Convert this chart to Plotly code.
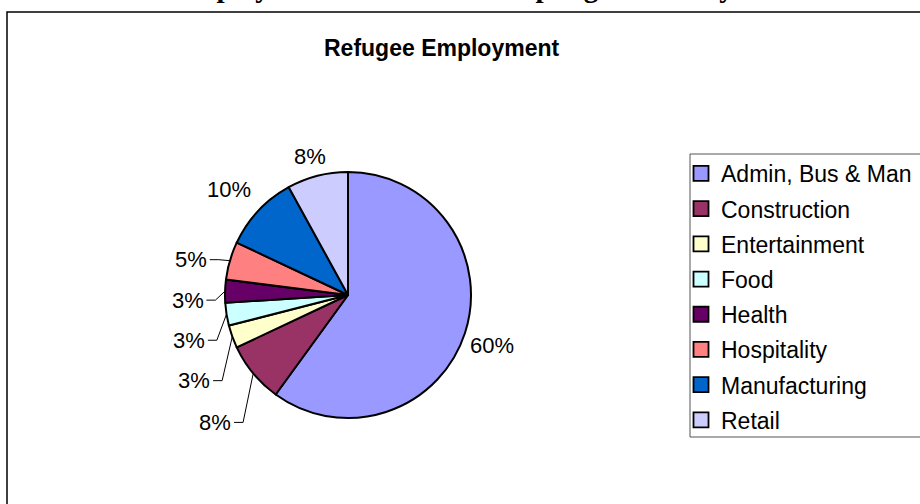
import math
import plotly.graph_objects as go

# Employment of sampled refugees by sector (percent of respondents)
categories = ["Admin, Bus & Man", "Construction", "Entertainment", "Food",
              "Health", "Hospitality", "Manufacturing", "Retail"]
shares = [60, 8, 3, 3, 3, 5, 10, 8]
colors = ["#9999FF", "#993366", "#FFFFCC", "#CCFFFF",
          "#660066", "#FF8080", "#0066CC", "#CCCCFF"]

W, H = 920, 504
CX, CY, R = 348, 295, 123          # pie centre and radius in page pixels
SANS = "Arial, Liberation Sans, sans-serif"
SERIF = "Times New Roman, Liberation Serif, serif"

# label placement relative to each slice's outer midpoint (px) and leader flags
label_offsets = [(27, 12), (-38, 49), (-38, 44), (-37.5, 26),
                 (-37.5, 9), (-39, -1), (-29, -21), (-7, -19)]
leaders = [False, True, True, True, True, True, False, False]
LABEL_SIZE = 22

fig = go.Figure()

fig.add_trace(go.Pie(
    labels=categories, values=shares, sort=False, direction="clockwise",
    rotation=0, textinfo="none", hoverinfo="label+percent",
    marker=dict(colors=colors, line=dict(color="black", width=2)),
    domain=dict(x=[(CX - R) / W, (CX + R) / W],
                y=[1 - (CY + R) / H, 1 - (CY - R) / H]),
    showlegend=False,
))

# legend entries, one group per sector so rows can be spaced out
for i, (name, col) in enumerate(zip(categories, colors)):
    fig.add_trace(go.Scatter(
        x=[None], y=[None], mode="markers", name=name, legendgroup=f"g{i}",
        marker=dict(symbol="square", size=15, color=col,
                    line=dict(color="black", width=1.8)),
        hoverinfo="skip",
    ))

total = sum(shares)
annotations = []
shapes = []
cum = 0
for v, (dx, dy), lead in zip(shares, label_offsets, leaders):
    theta = 2 * math.pi * (cum + v / 2) / total
    cum += v
    px = CX + R * math.sin(theta)
    py = CY - R * math.cos(theta)
    lx, ly = px + dx, py + dy
    text = f"{round(100 * v / total)}%"
    annotations.append(dict(x=lx, y=ly, xref="x", yref="y", text=text,
                            showarrow=False, xanchor="center", yanchor="middle",
                            font=dict(family=SANS, size=LABEL_SIZE, color="black")))
    if lead:
        hw = 0.72 * LABEL_SIZE * len(text) / 2
        sx, ex = lx + hw + 3, lx + hw + 12
        shapes.append(dict(type="path", xref="x", yref="y",
                           path=f"M {sx},{ly} L {ex},{ly} L {px},{py}",
                           line=dict(color="black", width=1)))

# chart title
annotations.append(dict(x=441, y=48, xref="x", yref="y", text="<b>Refugee Employment</b>",
                        showarrow=False, xanchor="center", yanchor="middle",
                        font=dict(family=SANS, size=23, color="black")))
# page heading running above the chart (only its descenders fall on the page)
annotations.append(dict(x=171, y=5, xref="x", yref="y",
                        text="<b>Employment Outcomes: Sampling Results by Sector</b>",
                        showarrow=False, xanchor="left", yanchor="bottom",
                        font=dict(family=SERIF, size=29, color="black")))

# chart frame and legend box
shapes.append(dict(type="rect", xref="x", yref="y", x0=7, y0=12, x1=W + 10, y1=H + 10,
                   line=dict(color="black", width=1.5)))
shapes.append(dict(type="rect", xref="x", yref="y", x0=690, y0=154, x1=W + 10, y1=437,
                   line=dict(color="#555555", width=1)))

fig.update_layout(
    width=W, height=H, margin=dict(l=0, r=0, t=0, b=0, autoexpand=False),
    paper_bgcolor="white", plot_bgcolor="white",
    xaxis=dict(range=[0, W], visible=False, fixedrange=True),
    yaxis=dict(range=[H, 0], visible=False, fixedrange=True),
    annotations=annotations, shapes=shapes,
    legend=dict(x=681 / W, y=1 - 152 / H, xanchor="left", yanchor="top",
                bgcolor="rgba(0,0,0,0)", borderwidth=0, tracegroupgap=2.3,
                font=dict(family=SANS, size=23, color="black")),
    showlegend=True,
)

fig.write_html("out.html")
